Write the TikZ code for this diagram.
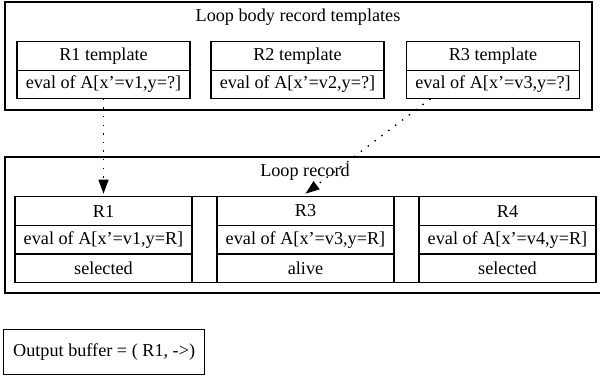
\documentclass[tikz,border=0pt]{standalone}
\usepackage{fontspec}
\setmainfont{Liberation Serif}
\usetikzlibrary{arrows.meta,positioning}

\begin{document}
\begin{tikzpicture}[x=0.5pt, y=-0.5pt, >={Triangle[length=7pt, width=5pt]},
    every node/.style={font=\fontsize{9.1}{11}\selectfont},
    every path/.style={line width=0.65pt},
    tplcell/.style={draw, inner sep=0pt, outer sep=0pt, minimum width=86.5pt, minimum height=14.25pt},
    reccell/.style={draw, inner sep=0pt, outer sep=0pt, minimum width=88.5pt, minimum height=14.35pt},
    gapcell/.style={draw, inner sep=0pt, outer sep=0pt, minimum width=12.5pt, minimum height=43.05pt, anchor=north west},
    link/.style={->, line width=0.7pt, dash pattern=on 0.7pt off 3.6pt}]
  \useasboundingbox (0,0) rectangle (600,377);

  % Templates
  \draw (5,2) rectangle (592,110);
  \node (tplTitle) at (298,17) {Loop body record templates};
  \node[tplcell] (tplA) at (103.5,56) {R1 template};
  \node[tplcell, below=0pt of tplA] (tplAeval) {eval of A[x’=v1,y=?]};
  \node[tplcell] (tplB) at (297.5,56) {R2 template};
  \node[tplcell, below=0pt of tplB] (tplBeval) {eval of A[x’=v2,y=?]};
  \node[tplcell] (tplC) at (493,56) {R3 template};
  \node[tplcell, below=0pt of tplC] (tplCeval) {eval of A[x’=v3,y=?]};

  % Loop record
  \draw (5,157) rectangle (603,293);
  \node (recTitle) at (305,172) {Loop record};
  \node[reccell] (recA) at (103.5,211) {R1};
  \node[reccell, below=0pt of recA] (recAeval) {eval of A[x’=v1,y=R]};
  \node[reccell, below=0pt of recAeval] (recAstate) {selected};
  \node[gapcell] (gapA) at (recA.north east) {};
  \node[reccell, anchor=north west] (recB) at (gapA.north east) {R3};
  \node[reccell, below=0pt of recB] (recBeval) {eval of A[x’=v3,y=R]};
  \node[reccell, below=0pt of recBeval] (recBstate) {alive};
  \node[gapcell] (gapB) at (recB.north east) {};
  \node[reccell, anchor=north west] (recC) at (gapB.north east) {R4};
  \node[reccell, below=0pt of recC] (recCeval) {eval of A[x’=v4,y=R]};
  \node[reccell, below=0pt of recCeval] (recCstate) {selected};

  % Output
  \node[draw, inner sep=0pt, minimum width=100.5pt, minimum height=22.5pt,
        anchor=north west] (outBuf) at (3,329) {Output buffer = ( R1, ->)};

  % Links
  \draw[link] (tplAeval.south) -- ([yshift=1.5pt]recA.north);
  \draw[link] ([xshift=12pt]tplCeval.south west) -- ([yshift=1.5pt]recB.north);
\end{tikzpicture}
\end{document}
